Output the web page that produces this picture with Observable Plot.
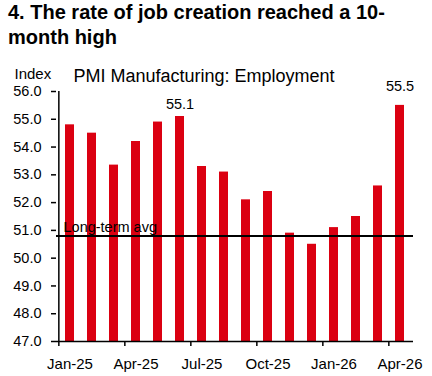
<!DOCTYPE html>
<html>
<head>
<meta charset="utf-8">
<script src="https://cdn.jsdelivr.net/npm/d3@7"></script>
<script src="https://cdn.jsdelivr.net/npm/@observablehq/plot@0.6"></script>
<style>
  html, body { margin: 0; padding: 0; background: #fff; }
  body { width: 432px; height: 376px; overflow: hidden; font-family: Arial, "Liberation Sans", sans-serif; }
  #title { font-weight: bold; font-size: 20px; line-height: 25px; padding-left: 8px; height: 50px; color: #000; width: 420px; }
  #chart svg { display: block; }
</style>
</head>
<body>
<div id="title">4. The rate of job creation reached a 10-month high</div>
<div id="chart"></div>
<script>
const months = ["Jan-25","Feb-25","Mar-25","Apr-25","May-25","Jun-25","Jul-25","Aug-25","Sep-25","Oct-25","Nov-25","Dec-25","Jan-26","Feb-26","Mar-26","Apr-26"];
const values = [54.8, 54.5, 53.35, 54.2, 54.9, 55.1, 53.3, 53.1, 52.1, 52.4, 50.9, 50.5, 51.1, 51.5, 52.6, 55.5];
const longTermAvg = 50.8;
const yTicks = [47, 48, 49, 50, 51, 52, 53, 54, 55, 56];
const xTickLabels = ["Jan-25", "Apr-25", "Jul-25", "Oct-25", "Jan-26", "Apr-26"];
const calloutNear = ["Jun-25"];
const calloutFar = ["Apr-26"];
const subtitle = "PMI Manufacturing: Employment";
const yLabel = "Index";
const avgLabel = "Long-term avg";

const data = months.map((m, i) => ({month: m, value: values[i]}));
const yMin = yTicks[0], yMax = yTicks[yTicks.length - 1];

const W = 432, H = 326, mL = 56, mR = 19, mT = 41, mB = 35;
const step = (W - mL - mR) / months.length;
const red = "#DB0011";

const chart = Plot.plot({
  width: W, height: H,
  marginLeft: mL, marginRight: mR, marginTop: mT, marginBottom: mB,
  style: {fontFamily: "Arial, 'Liberation Sans', sans-serif", fontSize: "14.5px", color: "#000", background: "#fff", overflow: "visible"},
  x: {domain: months, paddingInner: 0.6, paddingOuter: 0.3, axis: null},
  y: {domain: [yMin, yMax], axis: null},
  marks: [
    Plot.barY(data, {x: "month", y1: yMin, y2: "value", fill: red}),
    Plot.ruleY([longTermAvg], {stroke: "#000", strokeWidth: 2}),
    Plot.text([avgLabel], {text: d => d, y: () => longTermAvg, frameAnchor: "left", dx: 7, dy: -4, textAnchor: "start", lineAnchor: "bottom", fill: "#000"}),
    Plot.text(data.filter(d => calloutNear.includes(d.month)), {x: "month", y: "value", text: d => d.value.toFixed(1), dy: -8, lineAnchor: "bottom", fill: "#000"}),
    Plot.text(data.filter(d => calloutFar.includes(d.month)), {x: "month", y: "value", text: d => d.value.toFixed(1), dy: -14, lineAnchor: "bottom", fill: "#000"}),
    Plot.axisY({ticks: yTicks, tickFormat: d => d.toFixed(1), tickSize: 5, tickPadding: 10, strokeWidth: 1.5, label: null}),
    Plot.ruleX([months[0]], {dx: -step / 2, stroke: "#000", strokeWidth: 1.5}),
    Plot.ruleY([yMin], {stroke: "#000", strokeWidth: 1.5}),
    Plot.axisX({ticks: xTickLabels, tickSize: 5, tickFormat: () => "", dx: -step / 2, strokeWidth: 1.5, label: null}),
    Plot.axisX({ticks: xTickLabels, tickSize: 0, tickPadding: 17, fontSize: 15, label: null}),
    Plot.text([subtitle], {text: d => d, frameAnchor: "top-left", dx: 17, dy: -10, textAnchor: "start", lineAnchor: "bottom", fontSize: 18, fill: "#000"}),
    Plot.text([yLabel], {text: d => d, frameAnchor: "top-left", dx: -42, dy: -13, textAnchor: "start", lineAnchor: "bottom", fontSize: 15, fill: "#000"})
  ]
});
document.getElementById("chart").appendChild(chart);
</script>
</body>
</html>
